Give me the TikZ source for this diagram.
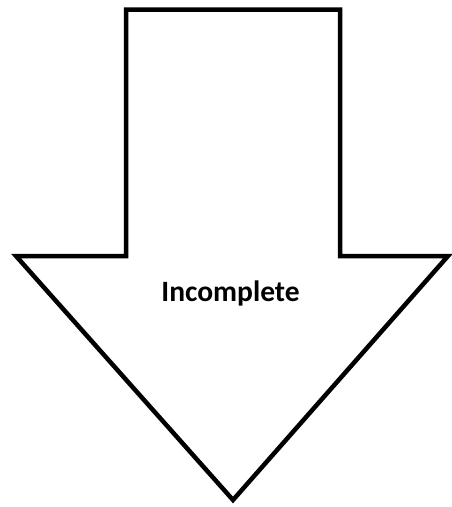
\documentclass[tikz,border=0pt]{standalone}
\usepackage{fontspec}
\setmainfont{Carlito}
\begin{document}
\begin{tikzpicture}[x=1pt,y=-1pt,
  arrowshape/.style={draw=black, fill=white, line width=4.5pt, line join=miter, miter limit=10},
  lbl/.style={font=\bfseries\fontsize{29.5}{34}\selectfont, inner sep=0pt}]
\useasboundingbox (0,0) rectangle (451,507);
\coordinate (t1) at (126,9.5);
\coordinate (t2) at (340,9.5);
\draw[arrowshape] (t1) -- (126,256) -- (16,256) -- (233,500) -- (448,256) -- (340,256) -- (t2) -- cycle;
\node[lbl] (txt) at (230.5,293) {Incomplete};
\end{tikzpicture}
\end{document}
